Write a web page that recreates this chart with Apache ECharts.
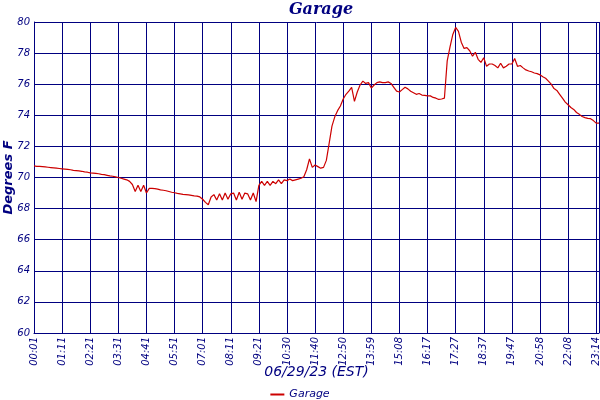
<!DOCTYPE html>
<html>
<head>
<meta charset="utf-8">
<script src="https://cdn.jsdelivr.net/npm/echarts@6/dist/echarts.min.js"></script>
<style>
  html, body { margin: 0; padding: 0; background: #fff; }
  #garageChart { width: 600px; height: 400px; }
</style>
</head>
<body>
<div id="garageChart"></div>
<script>
// tick labels on the x axis, one every 10 samples, plus the last sample
var tickLabels = ['00:01', '01:11', '02:21', '03:31', '04:41', '05:51', '07:01', '08:11', '09:21', '10:30',
  '11:40', '12:50', '13:59', '15:08', '16:17', '17:27', '18:37', '19:47', '20:58', '22:08', '23:14'];
var lastLabel = '23:16';
var yTicks = [60, 62, 64, 66, 68, 70, 72, 74, 76, 78, 80];

// garage temperature, degrees F
var garageTemp = [
  70.75, 70.72, 70.72, 70.70, 70.68, 70.66, 70.64, 70.62, 70.60, 70.58,
  70.56, 70.54, 70.52, 70.50, 70.46, 70.44, 70.42, 70.40, 70.36, 70.34,
  70.30, 70.28, 70.26, 70.24, 70.20, 70.18, 70.14, 70.10, 70.08, 70.04,
  70.00, 69.95, 69.90, 69.85, 69.75, 69.55, 69.10, 69.50, 69.10, 69.50,
  69.00, 69.30, 69.30, 69.28, 69.25, 69.20, 69.18, 69.15, 69.10, 69.05,
  69.02, 68.98, 68.95, 68.92, 68.90, 68.88, 68.85, 68.82, 68.80, 68.75,
  68.60, 68.40, 68.25, 68.75, 68.90, 68.55, 68.95, 68.55, 69.00, 68.60,
  68.95, 69.00, 68.55, 69.05, 68.60, 69.00, 68.95, 68.55, 69.00, 68.45,
  69.50, 69.75, 69.50, 69.75, 69.50, 69.75, 69.60, 69.85, 69.60, 69.85,
  69.80, 69.90, 69.80, 69.85, 69.90, 69.95, 70.05, 70.50, 71.20, 70.65,
  70.80, 70.70, 70.60, 70.65, 71.10, 72.20, 73.30, 73.90, 74.30, 74.60,
  75.05, 75.35, 75.55, 75.80, 74.90, 75.50, 75.95, 76.20, 76.05, 76.10,
  75.75, 75.95, 76.10, 76.15, 76.10, 76.10, 76.15, 76.05, 75.80, 75.55,
  75.50, 75.65, 75.80, 75.70, 75.55, 75.45, 75.35, 75.40, 75.30, 75.28,
  75.25, 75.25, 75.15, 75.10, 75.02, 75.05, 75.10, 77.50, 78.40, 79.20,
  79.65, 79.40, 78.70, 78.30, 78.35, 78.15, 77.80, 78.05, 77.60, 77.40,
  77.70, 77.15, 77.30, 77.30, 77.20, 77.05, 77.35, 77.05, 77.15, 77.30,
  77.30, 77.65, 77.15, 77.20, 77.05, 76.92, 76.85, 76.80, 76.72, 76.68,
  76.60, 76.48, 76.38, 76.20, 76.00, 75.72, 75.60, 75.35, 75.10, 74.85,
  74.68, 74.50, 74.38, 74.18, 74.06, 73.92, 73.85, 73.80, 73.78, 73.66,
  73.50, 73.50
];

var navy = '#000080';
var lineRed = '#cc0000';
var labelFont = 'DejaVu Sans';

//把 "hh:mm" 转成分钟
function toMinutes(s) {
  var p = s.split(':');
  return parseInt(p[0], 10) * 60 + parseInt(p[1], 10);
}

function toClock(m) {
  var h = Math.floor(m / 60), mm = Math.round(m % 60);
  return (h < 10 ? '0' : '') + h + ':' + (mm < 10 ? '0' : '') + mm;
}

// category names: the tick times, and times spread between them for the other samples
function buildCategories() {
  var cats = [];
  for (var i = 0; i < tickLabels.length; i++) {
    cats.push(tickLabels[i]);
    if (i < tickLabels.length - 1) {
      var a = toMinutes(tickLabels[i]), b = toMinutes(tickLabels[i + 1]);
      for (var k = 1; k < 10; k++) {
        cats.push(toClock(a + (b - a) * k / 10) + '.' + k);
      }
    }
  }
  cats.push(lastLabel);
  return cats;
}

var categories = buildCategories();
var lastIndex = categories.length - 1;

function showTick(index) {
  return index % 10 === 0 || index === lastIndex;
}

var chart = echarts.init(document.getElementById('garageChart'));
var option = {
  backgroundColor: '#fff',
  animation: false,
  title: {
    text: 'Garage',
    left: 316,
    textAlign: 'center',
    top: -3,
    textStyle: {
      color: navy,
      fontFamily: 'DejaVu Serif',
      fontStyle: 'italic',
      fontWeight: 'bold',
      fontSize: 16
    }
  },
  legend: {
    top: 384,
    left: 'center',
    itemWidth: 14,
    itemHeight: 2,
    itemGap: 4,
    textStyle: {
      color: navy,
      fontFamily: labelFont,
      fontStyle: 'italic',
      fontSize: 11
    },
    data: [{ name: 'Garage', icon: 'rect' }]
  },
  grid: {
    left: 34,
    right: 1,
    top: 22,
    bottom: 67,
    outerBoundsMode: 'none'
  },
  xAxis: {
    type: 'category',
    boundaryGap: false,
    data: categories,
    name: '06/29/23 (EST)',
    nameLocation: 'middle',
    nameGap: 32,
    nameMoveOverlap: false,
    nameTextStyle: {
      color: navy,
      fontFamily: labelFont,
      fontStyle: 'italic',
      fontSize: 14
    },
    axisLine: { lineStyle: { color: navy, width: 1 } },
    axisTick: { show: false },
    axisLabel: {
      interval: showTick,
      rotate: 90,
      margin: 4,
      hideOverlap: false,
      color: navy,
      fontFamily: labelFont,
      fontStyle: 'italic',
      fontSize: 10,
      formatter: function (value) {
        return value.split('.')[0];
      }
    },
    splitLine: {
      show: true,
      interval: showTick,
      lineStyle: { color: navy, width: 1 }
    }
  },
  yAxis: {
    type: 'value',
    min: yTicks[0],
    max: yTicks[yTicks.length - 1],
    interval: yTicks[1] - yTicks[0],
    name: 'Degrees F',
    nameLocation: 'middle',
    nameGap: 19,
    nameMoveOverlap: false,
    nameTextStyle: {
      color: navy,
      fontFamily: labelFont,
      fontStyle: 'italic',
      fontWeight: 'bold',
      fontSize: 13
    },
    axisLine: { show: true, lineStyle: { color: navy, width: 1 } },
    axisTick: { show: false },
    axisLabel: {
      margin: 4,
      color: navy,
      fontFamily: labelFont,
      fontStyle: 'italic',
      fontSize: 10
    },
    splitLine: { lineStyle: { color: navy, width: 1 } }
  },
  series: [{
    name: 'Garage',
    type: 'line',
    symbol: 'none',
    data: garageTemp,
    lineStyle: { color: lineRed, width: 1.2 },
    itemStyle: { color: lineRed }
  }]
};
chart.setOption(option);
</script>
</body>
</html>
